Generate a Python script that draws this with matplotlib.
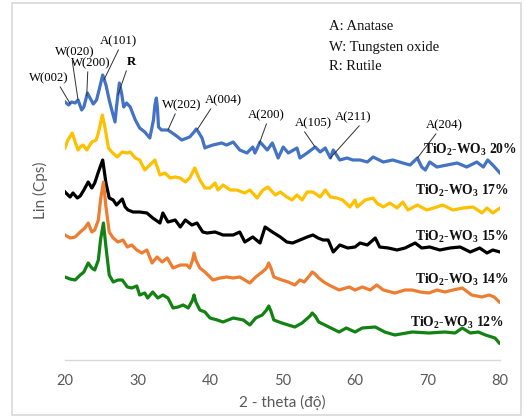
import numpy as np
import matplotlib
matplotlib.use("Agg")
import matplotlib.pyplot as plt
from matplotlib.patches import Rectangle

plt.rcParams["mathtext.fontset"] = "custom"
plt.rcParams["mathtext.rm"] = "Liberation Serif:bold"
plt.rcParams["mathtext.it"] = "Liberation Serif:italic:bold"

# ---- XRD patterns (2-theta in degrees, stacked intensity in arbitrary Cps) ----
x20 = [20.0, 20.5, 20.9, 21.4, 21.8, 22.3, 22.6, 23.1, 23.45, 23.9, 24.35, 24.7, 25.2, 25.65,
       26.1, 26.45, 26.9, 27.1, 27.5, 27.8, 28.1, 28.5, 29.0, 29.7, 30.3, 31.0, 31.7, 32.2,
       32.4, 32.6, 32.75, 32.9, 33.3, 34.2, 35.2, 36.1, 37.2, 37.8, 38.1, 38.4, 38.9, 39.3,
       39.6, 40.4, 41.6, 42.3, 43.2, 44.1, 45.1, 45.9, 46.2, 46.9, 47.9, 48.6, 49.4, 50.1,
       50.8, 52.0, 52.4, 53.4, 54.5, 55.2, 55.9, 56.6, 57.0, 57.9, 58.9, 59.7, 60.7, 61.7,
       62.5, 63.9, 65.2, 66.6, 67.6, 68.6, 69.2, 69.7, 70.3, 71.3, 72.7, 74.1, 75.4, 76.8,
       77.7, 78.3, 79.0, 80.0]
y20 = [258, 255, 258, 257, 260, 250, 253, 267, 262, 256, 260, 270, 285, 275,
       260, 250, 238, 253, 277, 267, 253, 257, 253, 240, 232, 228, 222, 240,
       255, 262, 252, 233, 230, 230, 225, 220, 223, 228, 231, 228, 222, 212,
       213, 215, 217, 215, 218, 210, 207, 213, 207, 218, 210, 217, 202, 213,
       207, 212, 202, 207, 213, 208, 212, 202, 210, 200, 202, 200, 200, 198,
       203, 198, 200, 197, 195, 202, 193, 190, 198, 193, 195, 197, 193, 198,
       193, 200, 195, 187]

x17 = [20.0, 20.4, 21.0, 21.4, 21.8, 22.1, 22.5, 23.0, 23.7, 24.3, 24.6, 25.15, 25.5, 26.0,
       26.45, 27.2, 27.9, 28.6, 29.0, 29.7, 30.3, 31.0, 31.7, 32.4, 33.1, 33.8, 34.5, 35.2,
       35.9, 36.6, 37.2, 37.9, 38.6, 39.3, 40.0, 40.7, 41.1, 41.8, 42.8, 43.7, 44.8, 45.5,
       46.5, 47.3, 48.0, 49.0, 49.7, 50.6, 51.3, 52.0, 52.7, 53.4, 54.2, 55.2, 55.9, 56.6,
       57.5, 58.3, 59.3, 60.0, 60.3, 61.4, 62.5, 63.0, 63.9, 64.8, 65.8, 66.6, 67.3, 68.6,
       69.9, 71.3, 72.1, 73.5, 74.9, 76.3, 77.5, 78.2, 79.0, 80.0]
y17 = [212, 220, 227, 218, 210, 213, 215, 210, 218, 220, 227, 245, 233, 212,
       208, 203, 208, 207, 208, 202, 200, 190, 195, 200, 185, 187, 182, 183,
       182, 178, 182, 192, 180, 172, 172, 177, 170, 175, 170, 170, 167, 170,
       162, 170, 173, 165, 168, 163, 160, 165, 160, 168, 168, 163, 170, 163,
       162, 160, 153, 160, 153, 160, 162, 157, 153, 157, 152, 158, 150, 155,
       150, 153, 155, 150, 152, 153, 147, 152, 147, 152]

x15 = [20.0, 20.7, 21.1, 21.7, 22.1, 22.6, 23.2, 23.7, 24.1, 24.6, 25.2, 25.65, 26.1, 26.65,
       27.1, 27.9, 28.3, 28.7, 29.4, 30.3, 31.3, 32.1, 33.1, 33.5, 34.2, 35.2, 35.9, 36.6,
       37.5, 38.2, 39.0, 39.6, 40.7, 41.8, 43.2, 44.1, 44.8, 45.9, 46.9, 47.6, 48.6, 49.7,
       50.6, 51.4, 52.4, 53.4, 54.2, 54.9, 55.6, 56.3, 57.0, 57.9, 59.0, 60.0, 60.7, 61.7,
       62.8, 63.4, 64.6, 65.8, 66.9, 68.3, 69.2, 70.3, 71.7, 73.1, 74.5, 75.9, 77.2, 78.2,
       79.0, 80.0]
y15 = [168, 163, 167, 162, 164, 170, 178, 172, 177, 188, 200, 177, 162, 160,
       155, 161, 153, 150, 148, 148, 147, 142, 137, 147, 138, 140, 133, 140,
       135, 137, 128, 127, 128, 125, 125, 128, 118, 123, 117, 133, 128, 123,
       118, 117, 120, 123, 125, 122, 120, 120, 108, 115, 112, 113, 117, 115,
       122, 113, 112, 110, 112, 117, 112, 113, 110, 112, 113, 108, 112, 107,
       110, 108]

x14 = [20.0, 20.7, 21.4, 22.1, 22.75, 23.2, 23.7, 24.1, 24.6, 24.9, 25.3, 25.65, 26.1, 26.65,
       27.3, 28.0, 28.6, 29.2, 29.9, 30.6, 31.3, 32.0, 32.7, 33.4, 34.1, 34.9, 35.9, 36.8,
       37.2, 37.6, 37.8, 38.05, 38.6, 39.3, 40.0, 40.4, 41.4, 42.3, 43.2, 44.1, 44.8, 45.5,
       46.3, 47.2, 47.8, 48.1, 48.4, 48.8, 49.9, 50.8, 51.7, 52.4, 53.0, 53.8, 54.1, 54.5,
       55.0, 55.7, 56.4, 57.8, 59.2, 60.0, 61.0, 62.1, 63.0, 63.9, 65.5, 66.9, 67.9, 69.0,
       70.2, 71.3, 72.4, 73.5, 74.8, 76.1, 77.5, 78.5, 79.2, 79.9]
y14 = [125, 122, 123, 128, 132, 137, 128, 130, 140, 160, 178, 153, 128, 122,
       118, 120, 113, 115, 110, 107, 110, 97, 103, 98, 102, 92, 95, 95,
       92, 100, 107, 100, 92, 88, 83, 80, 82, 83, 82, 83, 80, 77,
       83, 88, 92, 97, 92, 83, 80, 78, 75, 80, 78, 85, 88, 86,
       82, 78, 75, 70, 73, 70, 73, 70, 75, 70, 67, 70, 70, 68,
       67, 70, 68, 70, 72, 65, 63, 65, 63, 58]

x12 = [20.0, 20.7, 21.4, 22.1, 22.6, 23.2, 23.7, 24.1, 24.6, 24.9, 25.3, 25.65, 26.1, 26.65,
       27.3, 27.9, 28.6, 29.2, 29.9, 30.3, 31.0, 31.4, 32.1, 32.8, 33.5, 34.2, 34.9, 35.6,
       36.3, 37.0, 37.6, 37.8, 38.05, 38.6, 39.3, 40.0, 41.0, 41.8, 43.2, 44.6, 45.5, 46.3,
       47.2, 47.8, 48.1, 48.4, 48.8, 49.9, 50.8, 51.7, 52.7, 53.8, 54.1, 54.5, 55.0, 56.4,
       57.8, 58.8, 60.0, 61.0, 62.8, 64.1, 65.5, 67.9, 70.2, 72.4, 73.8, 74.8, 75.9, 77.0,
       78.0, 79.3, 79.9]
y12 = [83, 81, 80, 85, 88, 97, 92, 90, 100, 120, 137, 113, 85, 78,
       80, 80, 73, 72, 74, 65, 67, 62, 68, 62, 65, 62, 52, 53,
       55, 52, 60, 65, 58, 50, 48, 42, 40, 38, 42, 40, 35, 42,
       45, 50, 54, 49, 40, 37, 35, 33, 37, 44, 47, 44, 38, 33,
       28, 32, 28, 32, 33, 28, 25, 28, 27, 28, 27, 32, 27, 28,
       25, 22, 17]

series = [
    (x20, y20, "#4472C4", "TiO$_2$-WO$_3$ 20%"),
    (x17, y17, "#FFC000", "TiO$_2$-WO$_3$ 17%"),
    (x15, y15, "#000000", "TiO$_2$-WO$_3$ 15%"),
    (x14, y14, "#ED7D31", "TiO$_2$-WO$_3$ 14%"),
    (x12, y12, "#128312", "TiO$_2$-WO$_3$ 12%"),
]

# phase labels on the 20% pattern: (label, 2-theta of the peak)
peak_labels = ["W(002)", "W(020)", "W(200)", "A(101)", "R", "W(202)", "A(004)",
               "A(200)", "A(105)", "A(211)", "A(204)"]
peak_pos = [20.7, 21.8, 23.0, 25.4, 27.3, 34.2, 38.2, 46.8, 54.5, 56.6, 68.6]

W, H = 524, 417
fig = plt.figure(figsize=(W / 100, H / 100), dpi=100)
ax = fig.add_axes([65 / W, 57 / H, 435 / W, 350 / H])

for xs, ys, color, _ in series:
    ax.plot(xs, ys, color=color, lw=2.3, solid_joinstyle="round")

ax.set_xlim(20, 80)
ax.set_ylim(0, 350)
ax.set_xticks(range(20, 81, 10))
ax.set_yticks([])
for s in ["top", "right", "left"]:
    ax.spines[s].set_visible(False)
ax.spines["bottom"].set_color("#D9D9D9")
ax.spines["bottom"].set_linewidth(1.0)
ax.tick_params(axis="x", length=0, pad=10, labelsize=10.5, labelcolor="#595959")
for lab in ax.get_xticklabels():
    lab.set_fontfamily("Lato")

# text placement for the peak labels (figure pixels, text centre) and leader start on text box
label_xy = [(49, 78), (75, 52), (91, 63), (118, 41), (131, 62), (182, 105), (223, 100),
            (266, 115), (313, 123), (353, 117), (444, 125)]
label_rel = [0.74, 0.42, 0.42, 0.55, 0.1, 0.36, 0.22, 0.54, 0.22, 0.74, 0.34]
for lab, pos, (tx, ty), rx in zip(peak_labels, peak_pos, label_xy, label_rel):
    yv = float(np.interp(pos, x20, y20))
    ax.annotate(lab, xy=(pos, yv), xycoords="data",
                xytext=(tx, H - ty), textcoords="figure pixels",
                ha="center", va="center", fontsize=9.2, family="Liberation Serif",
                fontweight="bold" if lab == "R" else "normal",
                arrowprops=dict(arrowstyle="-", color="#303030", lw=0.7,
                                shrinkA=0, shrinkB=0, relpos=(rx, 0.0)))

# series names
name_xy = [(470, 150), (462, 191), (462, 237), (462, 280), (457, 323)]
for (_, _, _, name), (tx, ty) in zip(series, name_xy):
    fig.text(tx / W, 1 - ty / H, name, ha="center", va="center", fontsize=9.8,
             family="Liberation Serif", fontweight="bold", color="#111111")

# phase key
for i, line in enumerate(["A: Anatase", "W: Tungsten oxide", "R: Rutile"]):
    fig.text(329 / W, 1 - (27 + 20 * i) / H, line, ha="left", va="center",
             fontsize=10.5, family="Liberation Serif", color="#111111")

fig.text(282 / W, 1 - 402 / H, "2 - theta (độ)", ha="center", va="center",
         fontsize=11, family="Lato", color="#595959")
fig.text(40 / W, 1 - 190 / H, "Lin (Cps)", ha="center", va="center", rotation=90,
         fontsize=11, family="Lato", color="#595959")

fig.patches.append(Rectangle((12 / W, 2 / H), 509 / W, 412 / H, transform=fig.transFigure,
                             fill=False, edgecolor="#D9D9D9", lw=1.2))

fig.savefig("out.png", dpi=100)
